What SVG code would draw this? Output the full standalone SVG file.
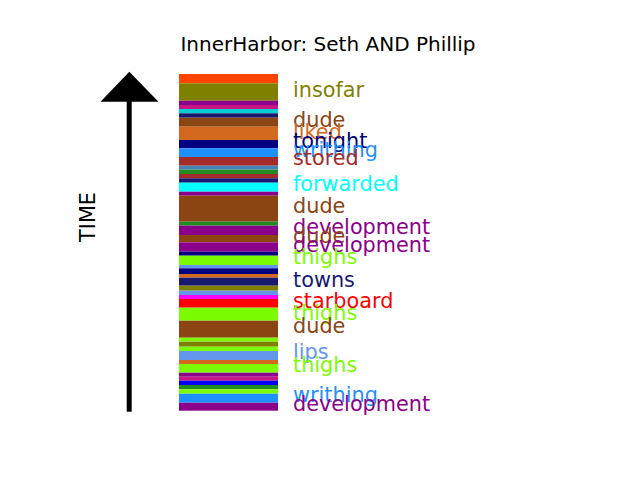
<svg xmlns="http://www.w3.org/2000/svg" width="640" height="480" viewBox="0 0 640 480">
<style>
text{font-family:"DejaVu Sans",sans-serif}
.lb{font-size:20.8px}
</style>
<rect width="640" height="480" fill="#fff"/>
<text x="328" y="50.5" font-size="20" text-anchor="middle" fill="#000">InnerHarbor: Seth AND Phillip</text>
<g id="time-axis">
<rect x="126.7" y="100" width="5" height="311.7" fill="#000"/>
<polygon points="129.3,71.7 100.5,101.7 158.5,101.7" fill="#000"/>
<text transform="translate(94.8,217) rotate(-90)" font-size="20.8" text-anchor="middle" fill="#000">TIME</text>
</g>
<g id="bar">
<rect x="179" y="74" width="99" height="9.3" fill="#FF4500"/>
<rect x="179" y="83.3" width="99" height="17.4" fill="#808000"/>
<rect x="179" y="100.7" width="99" height="4.3" fill="#8B008B"/>
<rect x="179" y="105" width="99" height="4" fill="#C71585"/>
<rect x="179" y="109" width="99" height="4.3" fill="#00CED1"/>
<rect x="179" y="113.3" width="99" height="4.4" fill="#191970"/>
<rect x="179" y="117.7" width="99" height="9" fill="#8B4513"/>
<rect x="179" y="126.7" width="99" height="13.3" fill="#D2691E"/>
<rect x="179" y="140" width="99" height="8.3" fill="#000080"/>
<rect x="179" y="148.3" width="99" height="8.7" fill="#1E90FF"/>
<rect x="179" y="157" width="99" height="8.7" fill="#A52A2A"/>
<rect x="179" y="165.7" width="99" height="4" fill="#4682B4"/>
<rect x="179" y="169.7" width="99" height="4.3" fill="#228B22"/>
<rect x="179" y="174" width="99" height="4.3" fill="#A52A2A"/>
<rect x="179" y="178.3" width="99" height="4.4" fill="#191970"/>
<rect x="179" y="182.7" width="99" height="9" fill="#00FFFF"/>
<rect x="179" y="191.7" width="99" height="4" fill="#8B008B"/>
<rect x="179" y="195.7" width="99" height="26" fill="#8B4513"/>
<rect x="179" y="221.7" width="99" height="4" fill="#228B22"/>
<rect x="179" y="225.7" width="99" height="9.3" fill="#8B008B"/>
<rect x="179" y="235" width="99" height="7.3" fill="#8B4513"/>
<rect x="179" y="242.3" width="99" height="9.4" fill="#8B008B"/>
<rect x="179" y="251.7" width="99" height="4" fill="#000080"/>
<rect x="179" y="255.7" width="99" height="9.3" fill="#7CFC00"/>
<rect x="179" y="265" width="99" height="3.3" fill="#6495ED"/>
<rect x="179" y="268.3" width="99" height="5.7" fill="#000080"/>
<rect x="179" y="274" width="99" height="3.7" fill="#D2691E"/>
<rect x="179" y="277.7" width="99" height="8" fill="#191970"/>
<rect x="179" y="285.7" width="99" height="5" fill="#808000"/>
<rect x="179" y="290.7" width="99" height="4.3" fill="#6495ED"/>
<rect x="179" y="295" width="99" height="4" fill="#FF00FF"/>
<rect x="179" y="299" width="99" height="8.7" fill="#FF0000"/>
<rect x="179" y="307.7" width="99" height="13" fill="#7CFC00"/>
<rect x="179" y="320.7" width="99" height="17" fill="#8B4513"/>
<rect x="179" y="337.7" width="99" height="4" fill="#7CFC00"/>
<rect x="179" y="341.7" width="99" height="5" fill="#808000"/>
<rect x="179" y="346.7" width="99" height="4.3" fill="#7CFC00"/>
<rect x="179" y="351" width="99" height="9" fill="#6495ED"/>
<rect x="179" y="360" width="99" height="4" fill="#D2691E"/>
<rect x="179" y="364" width="99" height="8.7" fill="#7CFC00"/>
<rect x="179" y="372.7" width="99" height="4" fill="#8B008B"/>
<rect x="179" y="376.7" width="99" height="4" fill="#C71585"/>
<rect x="179" y="380.7" width="99" height="4.3" fill="#0000FF"/>
<rect x="179" y="385" width="99" height="4.3" fill="#228B22"/>
<rect x="179" y="389.3" width="99" height="4.4" fill="#7CFC00"/>
<rect x="179" y="393.7" width="99" height="9" fill="#1E90FF"/>
<rect x="179" y="402.7" width="99" height="8" fill="#8B008B"/>
</g>
<g id="labels" class="lb">
<text x="293" y="96.5" fill="#808000">insofar</text>
<text x="293" y="127" fill="#8B4513">dude</text>
<text x="293" y="139" fill="#D2691E">liked</text>
<text x="293" y="148" fill="#000080">tonight</text>
<text x="293" y="157" fill="#1E90FF">writhing</text>
<text x="293" y="165" fill="#A52A2A">stored</text>
<text x="293" y="191" fill="#00FFFF">forwarded</text>
<text x="293" y="213" fill="#8B4513">dude</text>
<text x="293" y="234" fill="#8B008B">development</text>
<text x="293" y="243" fill="#8B4513">dude</text>
<text x="293" y="252" fill="#8B008B">development</text>
<text x="293" y="264" fill="#7CFC00">thighs</text>
<text x="293" y="287" fill="#191970">towns</text>
<text x="293" y="308" fill="#FF0000">starboard</text>
<text x="293" y="320" fill="#7CFC00">thighs</text>
<text x="293" y="333" fill="#8B4513">dude</text>
<text x="293" y="359" fill="#6495ED">lips</text>
<text x="293" y="372" fill="#7CFC00">thighs</text>
<text x="293" y="402" fill="#1E90FF">writhing</text>
<text x="293" y="411" fill="#8B008B">development</text>
</g>
</svg>
